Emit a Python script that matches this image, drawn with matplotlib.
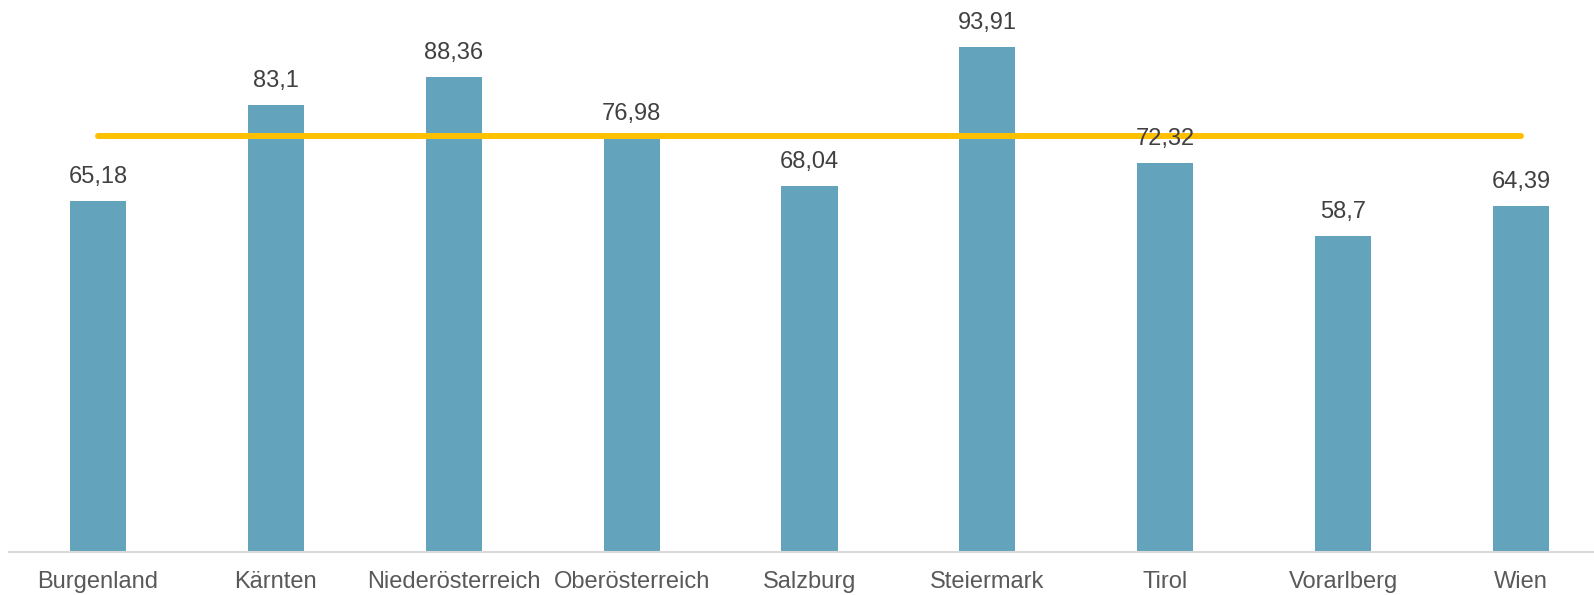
import matplotlib
matplotlib.use('Agg')
import matplotlib.pyplot as plt

# Daten
bundeslaender = ['Burgenland', 'Kärnten', 'Niederösterreich', 'Oberösterreich',
                 'Salzburg', 'Steiermark', 'Tirol', 'Vorarlberg', 'Wien']
werte = [65.18, 83.1, 88.36, 76.98, 68.04, 93.91, 72.32, 58.7, 64.39]
durchschnitt = [77.3] * len(bundeslaender)

labels = [f'{w:g}'.replace('.', ',') for w in werte]

plt.rcParams['font.family'] = ['Liberation Sans', 'DejaVu Sans']

W, H = 1594, 595
fig = plt.figure(figsize=(W / 100, H / 100), dpi=100)
ax = fig.add_axes([9 / W, (H - 552) / H, 1 - 9 / W, 538 / H])

x = list(range(len(bundeslaender)))
ax.bar(x, werte, width=0.315, color='#63A4BC', zorder=2)
ax.plot(x, durchschnitt, color='#FFC000', linewidth=4.3,
        solid_capstyle='round', zorder=3)

for xi, w, lab in zip(x, werte, labels):
    ax.annotate(lab, (xi, w), xytext=(0, 13), textcoords='offset points',
                ha='center', va='baseline', fontsize=17, color='#404040', zorder=4)

ax.set_xlim(-0.5, 8.41)
ax.set_ylim(0, 100)
ax.set_xticks(x)
ax.set_xticklabels(bundeslaender, fontsize=17, color='#595959')
ax.tick_params(axis='x', length=0, pad=14)
ax.set_yticks([])
for s in ['top', 'right', 'left']:
    ax.spines[s].set_visible(False)
ax.spines['bottom'].set_color('#D9D9D9')
ax.spines['bottom'].set_linewidth(1.5)

fig.savefig('out.png', dpi=100)
